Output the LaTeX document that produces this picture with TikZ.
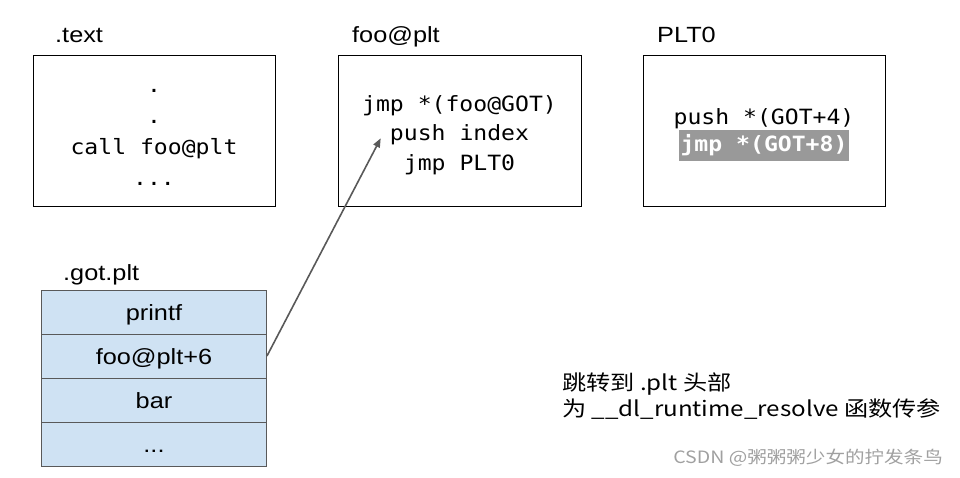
\documentclass[tikz,border=0pt]{standalone}
\usepackage{fontspec}
\setmainfont{Liberation Sans}[FakeStretch=1.15]
\newfontfamily\codefont{DejaVu Sans Mono}[FakeStretch=1.1]
\newfontfamily\cjkfont{Noto Sans CJK SC}[FakeStretch=1.15]
\usetikzlibrary{arrows.meta}
\definecolor{rowblue}{RGB}{207,226,243}
\definecolor{rowline}{RGB}{89,89,89}
\definecolor{hlgray}{RGB}{153,153,153}
\definecolor{wmgray}{RGB}{160,160,160}
\begin{document}
\begin{tikzpicture}[x=1pt,y=-1pt,
  box/.style={draw=black,line width=0.9pt,minimum height=151pt,inner sep=0pt},
  code/.style={anchor=base,inner sep=0pt,font=\codefont\fontsize{21}{25}\selectfont},
  lbl/.style={anchor=base west,inner sep=0pt,font=\fontsize{22}{26}\selectfont},
  row/.style={draw=rowline,fill=rowblue,line width=0.9pt,minimum width=225pt,minimum height=44pt,
    inner sep=0pt,text height=20pt,text depth=4pt,font=\fontsize{22}{26}\selectfont},
  note/.style={anchor=base west,inner sep=0pt,font=\cjkfont\fontsize{21}{24}\selectfont},
  conn/.style={draw=rowline,line width=1.6pt,-{Triangle[length=9pt,width=7pt]}}]
\useasboundingbox (0,0) rectangle (960,477);
% section labels
\node[lbl] (ltext) at (55,42) {.text};
\node[lbl] (lfoo) at (352,42) {foo@plt};
\node[lbl] (lplt) at (657,42) {PLT0};
\node[lbl] (lgot) at (63,280) {.got.plt};
% boxes
\node[box,minimum width=242pt] (textbox) at (154,130.5) {};
\node[box,minimum width=243pt] (foobox) at (459.5,130.5) {};
\node[box,minimum width=242pt] (pltbox) at (764,130.5) {};
% .text content
\node[code] (t1) at (154,92.5) {.};
\node[code] (t2) at (154,123.3) {.};
\node[code] (t3) at (154,154) {call foo@plt};
\node[code] (t4) at (154,185) {...};
% foo@plt content
\node[code] (f1) at (459.5,111) {jmp *(foo@GOT)};
\node[code] (f2) at (459.5,140.5) {push index};
\node[code] (f3) at (459.5,170) {jmp PLT0};
% PLT0 content
\node[code] (p1) at (764,124) {push *(GOT+4)};
\node[fill=hlgray,minimum width=170pt,minimum height=31pt,inner sep=0pt] (hl) at (764,145.5) {};
\node[code,text=white,font=\codefont\bfseries\fontsize{21}{25}\selectfont] (p2) at (764,151.5) {jmp *(GOT+8)};
% .got.plt table
\node[row] (r1) at (154,312) {printf};
\node[row] (r2) at (154,356) {foo@plt+6};
\node[row] (r3) at (154,400) {bar};
\node[row] (r4) at (154,444) {...};
% arrow
\coordinate (tip) at (380.7,138.3);
\draw[conn] (r2.east) -- (tip);
% notes
\node[note] (n1) at (562,390) {跳转到 .plt 头部};
\node[note] (n2) at (562,416) {为 \_\_dl\_runtime\_resolve 函数传参};
\node[anchor=base east,inner sep=0pt,text=wmgray,font=\cjkfont\fontsize{17}{20}\selectfont] (wm) at (943,463) {CSDN @粥粥粥少女的拧发条鸟};
\end{tikzpicture}
\end{document}
